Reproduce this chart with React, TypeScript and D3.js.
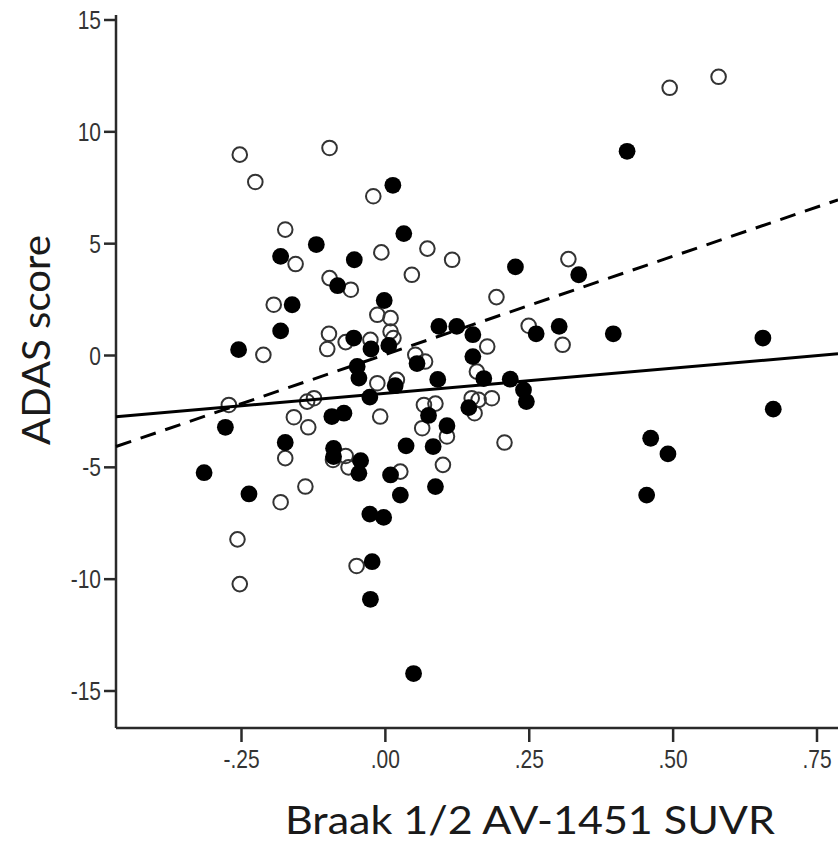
import React from "react";
import * as d3 from "d3";

const xTicks = [-0.25, 0, 0.25, 0.5, 0.75];
const xTickLabels = ["-.25", ".00", ".25", ".50", ".75"];
const yTicks = [15, 10, 5, 0, -5, -10, -15];
const yTickLabels = ["15", "10", "5", "0", "-5", "-10", "-15"];

const xTitle = "Braak 1/2 AV-1451 SUVR";
const yTitle = "ADAS score";

// filled markers: [SUVR, ADAS]
const filledPoints: [number, number][] = [
  [-0.315, -5.24], [-0.278, -3.21], [-0.255, 0.26], [-0.237, -6.19],
  [-0.182, 4.43], [-0.182, 1.1], [-0.174, -3.89], [-0.162, 2.27],
  [-0.12, 4.96], [-0.093, -2.73], [-0.072, -2.58], [-0.09, -4.15],
  [-0.09, -4.52], [-0.083, 3.12], [-0.055, 0.78], [-0.054, 4.28],
  [-0.049, -0.49], [-0.046, -1.01], [-0.043, -4.7], [-0.046, -5.27],
  [-0.027, -1.86], [-0.025, 0.29], [-0.027, -7.09], [-0.023, -9.22],
  [-0.026, -10.9], [-0.002, 2.46], [-0.003, -7.24], [0.006, 0.45],
  [0.013, 7.61], [0.017, -1.35], [0.009, -5.34], [0.026, -6.24],
  [0.032, 5.45], [0.036, -4.04], [0.049, -14.22], [0.055, -0.36],
  [0.075, -2.68], [0.083, -4.07], [0.087, -5.86], [0.091, -1.07],
  [0.093, 1.3], [0.107, -3.14], [0.124, 1.3], [0.145, -2.33],
  [0.152, 0.93], [0.152, -0.05], [0.171, -1.03], [0.217, -1.06],
  [0.226, 3.96], [0.24, -1.54], [0.245, -2.06], [0.262, 0.97],
  [0.302, 1.3], [0.336, 3.61], [0.396, 0.97], [0.42, 9.13],
  [0.454, -6.24], [0.461, -3.7], [0.491, -4.4], [0.656, 0.78],
  [0.674, -2.4],
];

// open markers: [SUVR, ADAS]
const openPoints: [number, number][] = [
  [-0.272, -2.21], [-0.253, 8.98], [-0.226, 7.76], [-0.257, -8.22],
  [-0.253, -10.22], [-0.212, 0.03], [-0.194, 2.27], [-0.182, -6.56],
  [-0.174, 5.63], [-0.174, -4.59], [-0.159, -2.76], [-0.156, 4.09],
  [-0.139, -5.86], [-0.136, -2.06], [-0.124, -1.91], [-0.134, -3.21],
  [-0.101, 0.29], [-0.098, 0.97], [-0.097, 9.28], [-0.097, 3.46],
  [-0.069, 0.6], [-0.06, 2.94], [-0.069, -4.49], [-0.064, -5.0],
  [-0.091, -4.67], [-0.05, -9.41], [-0.026, 0.7], [-0.021, 7.12],
  [-0.014, 1.82], [0.009, 1.67], [0.009, 1.07], [0.014, 0.78],
  [-0.014, -1.24], [0.02, -1.09], [-0.009, -2.73], [-0.007, 4.61],
  [0.046, 3.61], [0.052, 0.03], [0.069, -0.27], [0.067, -2.21],
  [0.087, -2.15], [0.064, -3.25], [0.073, 4.78], [0.1, -4.89],
  [0.107, -3.62], [0.116, 4.28], [0.15, -1.91], [0.155, -2.58],
  [0.159, -0.72], [0.177, 0.4], [0.162, -1.98], [0.185, -1.91],
  [0.193, 2.61], [0.207, -3.89], [0.249, 1.33], [0.308, 0.48],
  [0.318, 4.31], [0.494, 11.97], [0.579, 12.46], [0.026, -5.19],
];

// fit lines: [intercept, slope]
const solidFit = [-1.689, 2.245];
const dashedFit = [0.044, 8.79];

const W = 838;
const H = 841;

export default function App() {
  const x = d3.scaleLinear().domain([-0.25, 0.75]).range([241.5, 817]);
  const y = d3.scaleLinear().domain([-15, 15]).range([691, 20]);
  const axisLeft = 116;
  const axisBottom = 728;
  const xMin = x.invert(axisLeft);
  const xMax = x.invert(W);

  const fitPath = (f: number[]) =>
    d3
      .line<number>()
      .x((d) => x(d))
      .y((d) => y(f[0] + f[1] * d))([xMin, xMax]) || "";

  const axisColor = "#2a2a2a";
  const tickFont = "'Liberation Sans', Arial, sans-serif";
  const titleFont = "Lato, 'Open Sans', sans-serif";

  return (
    <svg
      width={W}
      height={H}
      style={{ position: "absolute", left: 0, top: 0, background: "#fff" }}
    >
      <rect x={0} y={0} width={W} height={H} fill="#fff" />
      {/* axes */}
      <line x1={axisLeft} x2={axisLeft} y1={15} y2={axisBottom} stroke={axisColor} strokeWidth={2.5} />
      <line x1={axisLeft} x2={W} y1={axisBottom} y2={axisBottom} stroke={axisColor} strokeWidth={2.5} />
      {yTicks.map((t, i) => (
        <g key={"yt" + i}>
          <line x1={axisLeft - 12} x2={axisLeft} y1={y(t)} y2={y(t)} stroke={axisColor} strokeWidth={2.5} />
          <text
            transform={`translate(101, ${y(t)}) scale(0.84, 1)`}
            dy="0.36em"
            textAnchor="end"
            fontFamily={tickFont}
            fontSize={25}
            fill="#333"
          >
            {yTickLabels[i]}
          </text>
        </g>
      ))}
      {xTicks.map((t, i) => (
        <g key={"xt" + i}>
          <line x1={x(t)} x2={x(t)} y1={axisBottom} y2={axisBottom + 14} stroke={axisColor} strokeWidth={2.5} />
          <text
            transform={`translate(${x(t)}, 768) scale(0.84, 1)`}
            textAnchor="middle"
            fontFamily={tickFont}
            fontSize={25}
            fill="#333"
          >
            {xTickLabels[i]}
          </text>
        </g>
      ))}
      {/* titles */}
      <text
        x={530}
        y={834}
        textAnchor="middle"
        fontFamily={titleFont}
        fontSize={38}
        fill="#1a1a1a"
        textLength={490}
        lengthAdjust="spacingAndGlyphs"
      >
        {xTitle}
      </text>
      <text
        transform={`translate(50, 340) rotate(-90)`}
        textAnchor="middle"
        fontFamily={titleFont}
        fontSize={38}
        fill="#1a1a1a"
        textLength={210}
        lengthAdjust="spacingAndGlyphs"
      >
        {yTitle}
      </text>
      {/* points */}
      <g>
        {openPoints.map((p, i) => (
          <circle
            key={"o" + i}
            cx={x(p[0])}
            cy={y(p[1])}
            r={7.3}
            fill="none"
            stroke="#333"
            strokeWidth={2}
          />
        ))}
        {filledPoints.map((p, i) => (
          <circle key={"f" + i} cx={x(p[0])} cy={y(p[1])} r={8.4} fill="#000" />
        ))}
      </g>
      {/* fit lines */}
      <path d={fitPath(solidFit)} stroke="#000" strokeWidth={3} fill="none" />
      <path
        d={fitPath(dashedFit)}
        stroke="#000"
        strokeWidth={3}
        fill="none"
        strokeDasharray="16 10"
      />
    </svg>
  );
}
